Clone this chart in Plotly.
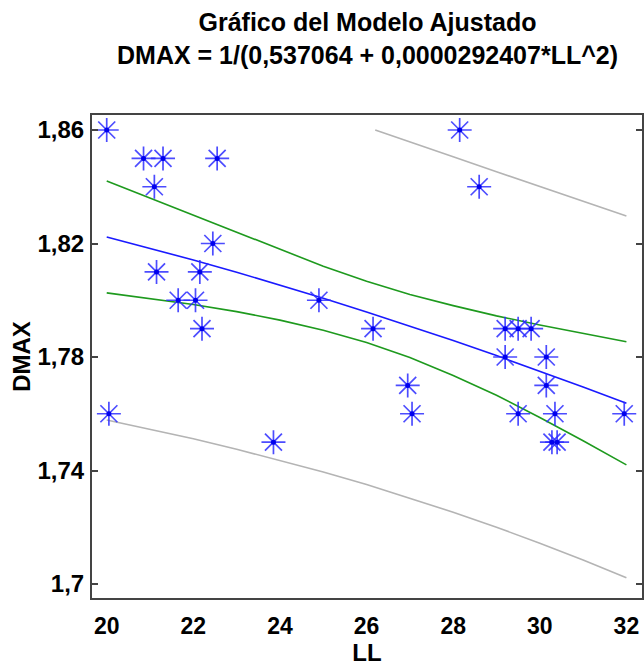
import plotly.graph_objects as go

LL = [20.0, 20.05, 20.85, 21.3, 22.55, 21.1, 22.45, 21.15, 22.15, 21.65,
      22.05, 24.9, 22.2, 23.85, 26.15, 28.15, 28.6, 29.2, 29.5, 29.8,
      29.2, 30.15, 26.95, 30.15, 27.05, 29.5, 30.35, 31.95, 30.28, 30.4]
DMAX = [1.86, 1.76, 1.85, 1.85, 1.85, 1.84, 1.82, 1.81, 1.81, 1.80,
        1.80, 1.80, 1.79, 1.75, 1.79, 1.86, 1.84, 1.79, 1.79, 1.79,
        1.78, 1.78, 1.77, 1.77, 1.76, 1.76, 1.76, 1.76, 1.75, 1.75]

# Curves (values read at integer LL)
LL_grid = [20, 21, 22, 23, 24, 25, 26, 27, 28, 29, 30, 31, 32]
fit = [1.8223, 1.8183, 1.8142, 1.8099, 1.8054, 1.8007, 1.7959,
       1.7909, 1.7858, 1.7805, 1.7750, 1.7694, 1.7637]
conf_upper = [1.8420, 1.8360, 1.8299, 1.8238, 1.8178, 1.8120, 1.8067,
              1.8020, 1.7981, 1.7945, 1.7913, 1.7883, 1.7854]
conf_lower = [1.8026, 1.8006, 1.7985, 1.7960, 1.7930, 1.7894, 1.7851,
              1.7798, 1.7735, 1.7665, 1.7587, 1.7505, 1.7420]
pred_lower = [1.7578, 1.7546, 1.7512, 1.7475, 1.7436, 1.7395, 1.7351,
              1.7303, 1.7253, 1.7200, 1.7144, 1.7085, 1.7022]
LL_pred_upper = [26.2, 27, 28, 29, 30, 31, 32]
pred_upper = [1.8600, 1.8559, 1.8506, 1.8453, 1.8401, 1.8349, 1.8297]

ytick_vals = [1.70, 1.74, 1.78, 1.82, 1.86]
ytick_text = ["1,7", "1,74", "1,78", "1,82", "1,86"]
xtick_vals = [20, 22, 24, 26, 28, 30, 32]

TITLE = "Gráfico del Modelo Ajustado<br>DMAX = 1/(0,537064 + 0,0000292407*LL^2)"
FONT = "Liberation Sans, Arial, sans-serif"

fig = go.Figure()
line_gray = dict(color="#b4b4b4", width=1.6)
line_green = dict(color="#1e9a1e", width=1.6)
fig.add_trace(go.Scatter(x=LL_grid, y=pred_lower, mode="lines", line=line_gray))
fig.add_trace(go.Scatter(x=LL_pred_upper, y=pred_upper, mode="lines", line=line_gray))
fig.add_trace(go.Scatter(x=LL_grid, y=conf_upper, mode="lines", line=line_green))
fig.add_trace(go.Scatter(x=LL_grid, y=conf_lower, mode="lines", line=line_green))
fig.add_trace(go.Scatter(x=LL_grid, y=fit, mode="lines", line=dict(color="#1a1aff", width=1.6)))
fig.add_trace(go.Scatter(x=LL, y=DMAX, mode="markers",
                         marker=dict(symbol="asterisk-open", size=20, color="rgba(45,45,255,0.85)",
                                     line=dict(color="rgba(45,45,255,0.85)", width=1.7))))
fig.add_trace(go.Scatter(x=LL, y=DMAX, mode="markers",
                         marker=dict(symbol="circle", size=5, color="#0000ee")))

fig.add_annotation(text=TITLE, xref="paper", yref="paper", x=0.5, y=1.2257,
                   xanchor="center", yanchor="top", showarrow=False, align="center",
                   font=dict(family=FONT, size=25, color="black", weight="bold"))

fig.update_layout(
    width=644, height=669,
    margin=dict(l=92, r=2, t=115, b=71, autoexpand=False),
    paper_bgcolor="white", plot_bgcolor="white",
    showlegend=False,
    xaxis=dict(range=[19.66, 32.36], tickvals=xtick_vals, ticks="",
               showgrid=False, zeroline=False, automargin=False,
               showline=True, mirror=True, linecolor="#444", linewidth=2,
               tickfont=dict(family=FONT, size=23, color="black", weight="bold"),
               ticklabelstandoff=6,
               title=dict(text="LL", standoff=4,
                          font=dict(family=FONT, size=24, color="black", weight="bold"))),
    yaxis=dict(range=[1.69507, 1.86529], tickvals=ytick_vals, ticktext=ytick_text,
               ticks="inside", ticklen=6, tickwidth=2, tickcolor="#444",
               showgrid=False, zeroline=False, automargin=False,
               showline=True, mirror="ticks", linecolor="#444", linewidth=2,
               tickfont=dict(family=FONT, size=24, color="black", weight="bold"),
               ticklabelstandoff=1,
               title=dict(text="DMAX", standoff=0,
                          font=dict(family=FONT, size=24, color="black", weight="bold"))),
)

# place the 644x669 figure at the page corner (no default body margin)
fig.write_html("out.html", config={"displayModeBar": False},
               post_script="document.body.style.margin='0';document.body.style.overflow='hidden';")
